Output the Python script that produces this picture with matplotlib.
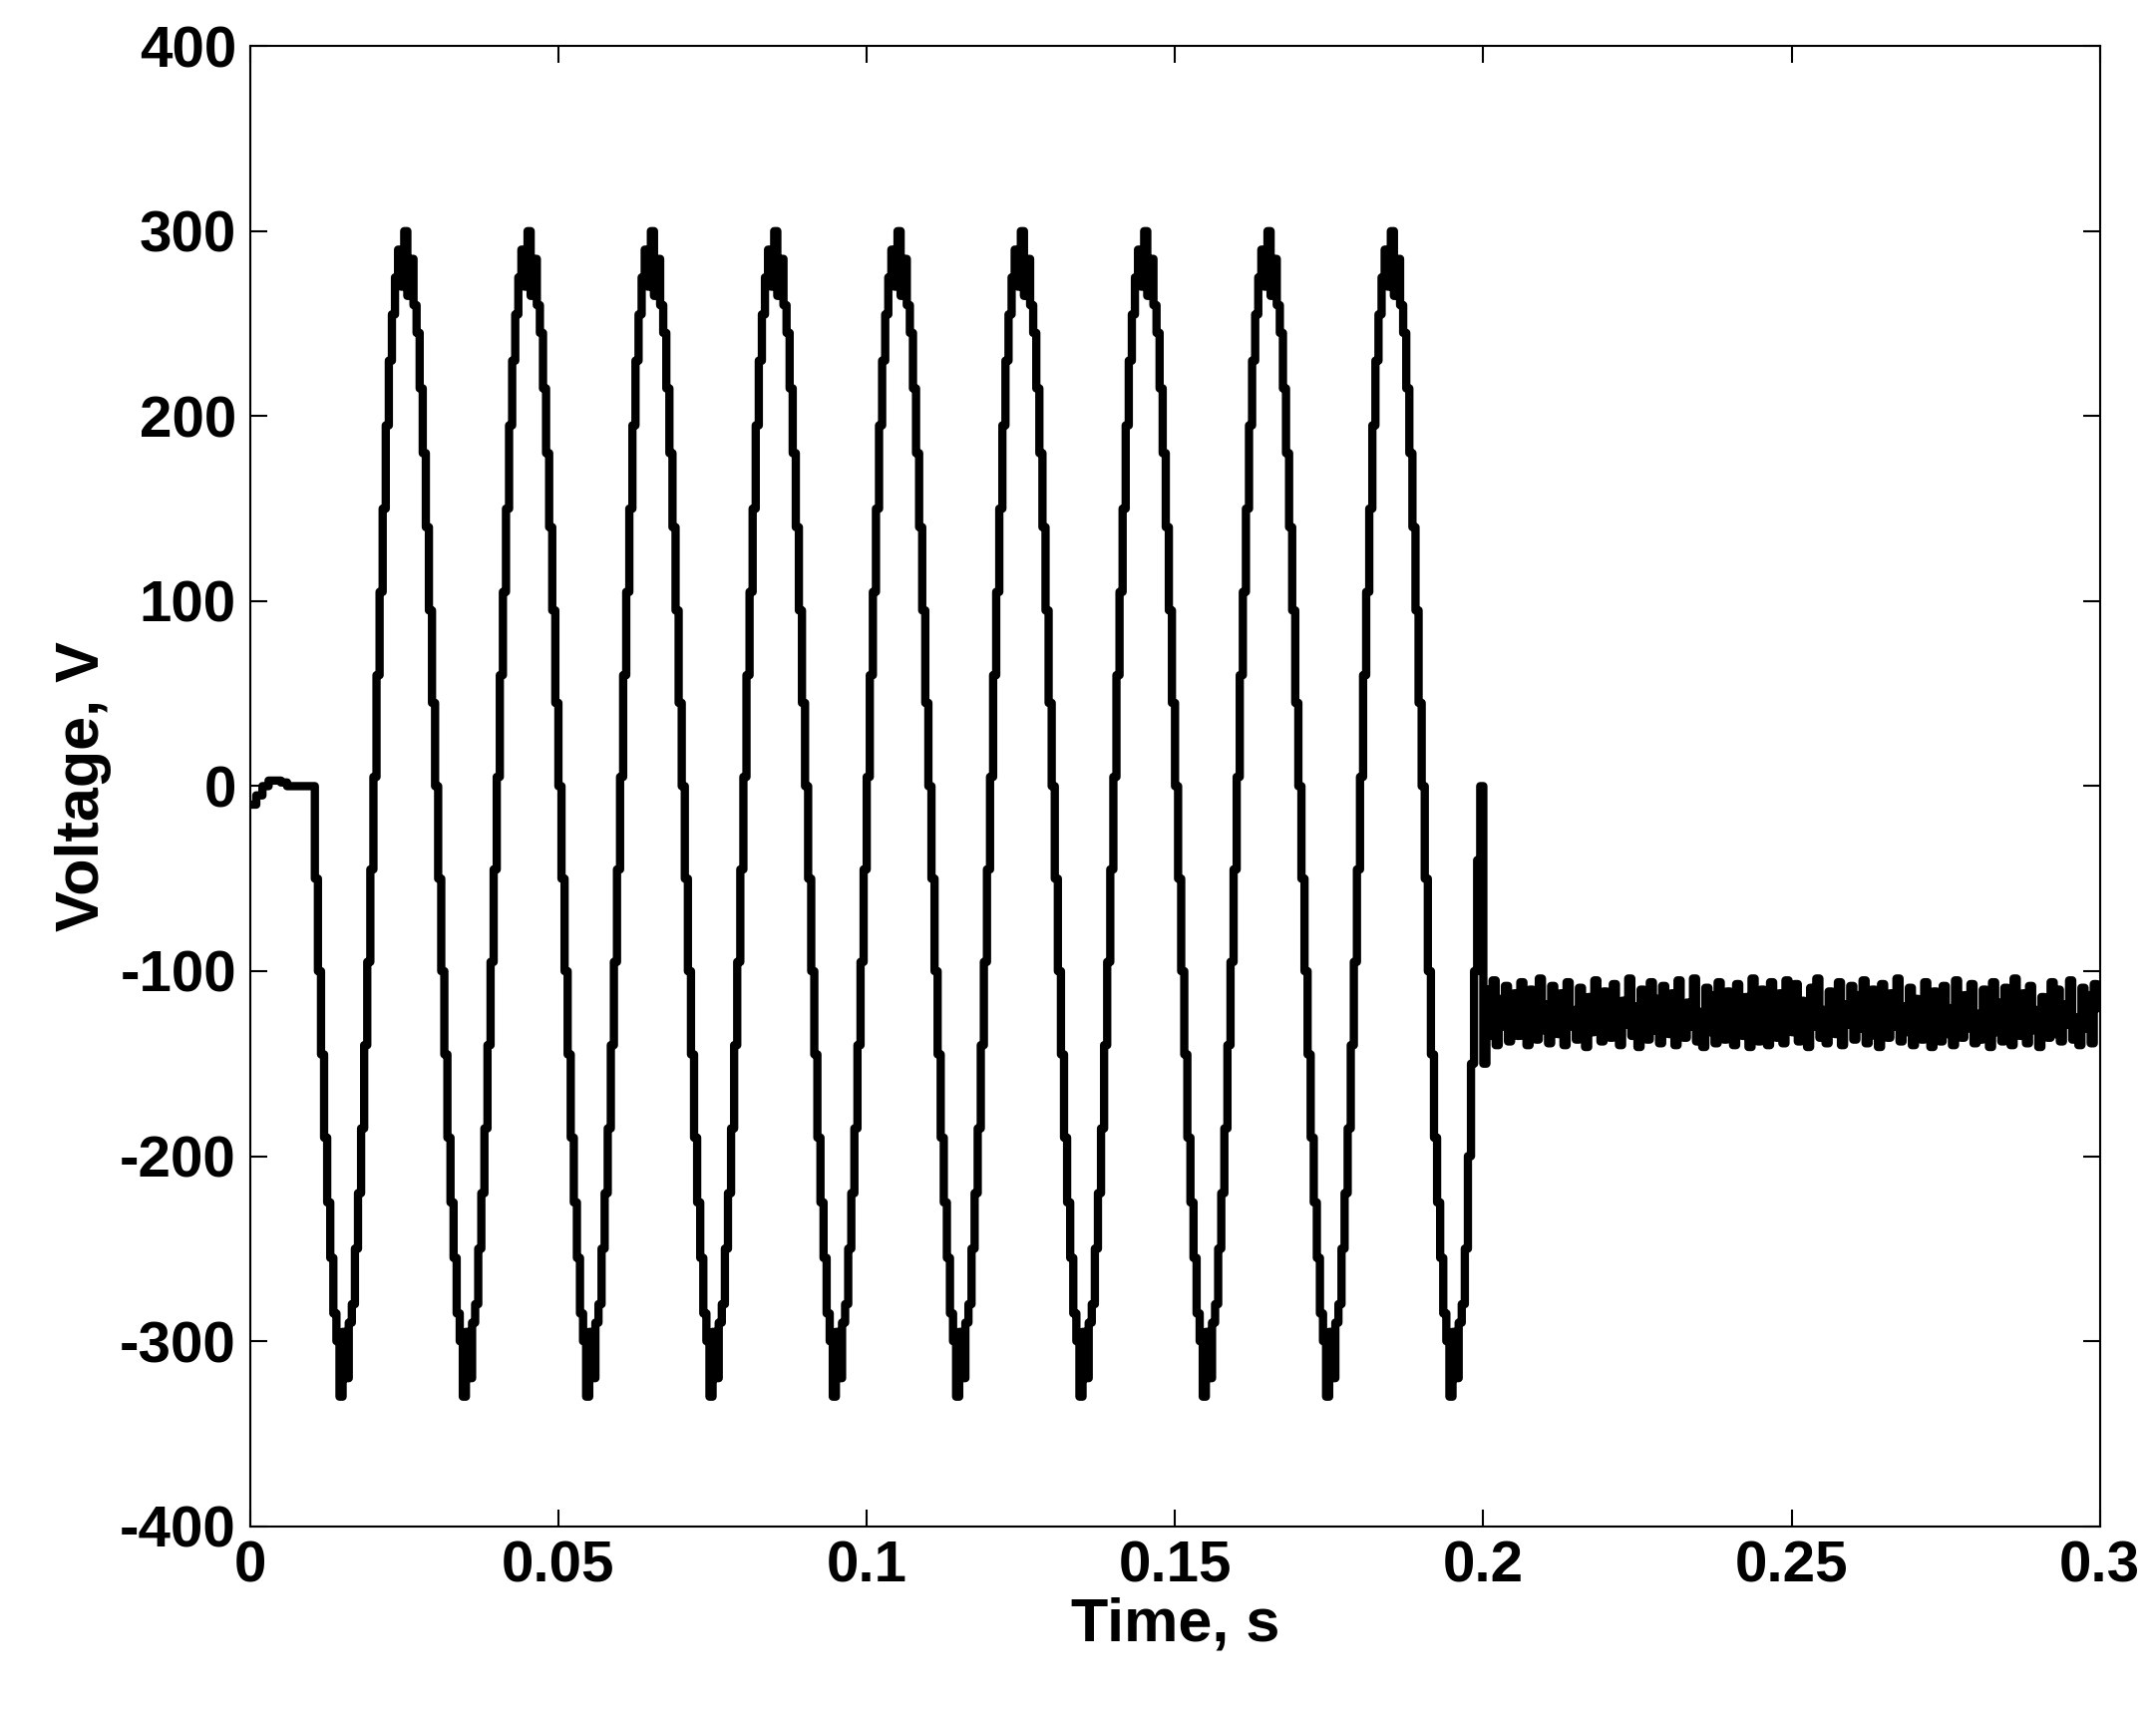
import matplotlib.pyplot as plt

# start-up segment, 1 ms steps
start_t0 = 0.0
start_dt = 0.001
start_v = [-10, -5, 0, 3, 3, 2, 0, 0, 0, 0]

# one period of the staircase waveform, 0.5 ms steps
cycle_dt = 0.0005
cycle_v = [0, -50, -100, -145, -190, -225, -255, -285, -300, -330,
           -295, -320, -290, -280, -250, -220, -185, -140, -95, -45,
           5, 60, 105, 150, 195, 230, 255, 275, 290, 270,
           300, 265, 285, 260, 245, 215, 180, 140, 95, 45]
n_cycles = 9
last_half = [0, -50, -100, -145, -190, -225, -255, -285, -300, -330,
             -295, -320, -290, -280, -250, -200, -150, -100, -40, 0]

# tail after 0.2 s, 0.5 ms steps
tail_dt = 0.0005
tail_v = [-150, -110, -135, -105, -140, -115, -130, -108, -138, -120,
          -112, -135, -106, -128, -140, -110, -125, -137, -104, -132,
          -118, -139, -108, -126, -134, -112, -140, -106, -130, -121,
          -137, -109, -128, -141, -114, -133, -105, -127, -138, -111,
          -124, -136, -107, -131, -140, -116, -129, -104, -135, -119,
          -141, -110, -126, -137, -106, -132, -115, -139, -108, -128,
          -134, -112, -140, -105, -127, -136, -117, -130, -104, -138,
          -122, -141, -109, -133, -113, -139, -106, -125, -137, -111,
          -131, -140, -107, -128, -135, -114, -141, -104, -126, -138,
          -110, -132, -140, -106, -129, -136, -112, -139, -105, -120,
          -133, -107, -138, -116, -127, -141, -109, -130, -104, -136,
          -121, -139, -111, -126, -134, -106, -140, -118, -129, -108,
          -137, -113, -131, -105, -139, -124, -110, -135, -141, -107,
          -128, -136, -112, -130, -104, -138, -119, -133, -109, -140,
          -115, -127, -137, -106, -132, -141, -111, -125, -138, -108,
          -134, -120, -140, -105, -129, -136, -113, -131, -107, -139,
          -123, -137, -110, -128, -141, -106, -133, -117, -138, -109,
          -130, -140, -104, -126, -135, -112, -139, -108, -132, -121,
          -141, -114, -127, -136, -106, -134, -110, -138, -118, -129,
          -105, -137, -125, -140, -109, -131, -113, -139, -107, -120]

t, v = [], []
for i, val in enumerate(start_v):
    t.append(start_t0 + i * start_dt); v.append(val)
t0 = 0.01
seq = cycle_v * n_cycles + last_half
for i, val in enumerate(seq):
    t.append(t0 + i * cycle_dt); v.append(val)
t1 = t0 + len(seq) * cycle_dt
for i, val in enumerate(tail_v):
    t.append(t1 + i * tail_dt); v.append(val)
t.append(0.3); v.append(tail_v[-1])

plt.rcParams['font.family'] = ['Liberation Sans', 'DejaVu Sans']
plt.rcParams['font.weight'] = 'bold'
plt.rcParams['axes.unicode_minus'] = False
fig = plt.figure(figsize=(21.62, 17.14), dpi=100)
ax = fig.add_axes([0.116, 0.107, 0.858, 0.866])
ax.plot(t, v, color='black', linewidth=6, drawstyle='steps-post')
ax.set_xlim(0, 0.3)
ax.set_ylim(-400, 400)
ax.set_xticks([0, 0.05, 0.1, 0.15, 0.2, 0.25, 0.3])
ax.set_xticklabels(['0', '0.05', '0.1', '0.15', '0.2', '0.25', '0.3'])
ax.set_yticks(range(-400, 401, 100))
ax.tick_params(direction='in', top=True, right=True, labelsize=42,
               length=12, width=1.5, pad=10)
for s in ax.spines.values():
    s.set_linewidth(1.5)
ax.set_xlabel('Time, s', fontsize=44, fontweight='bold', labelpad=2)
ax.set_ylabel('Voltage, V', fontsize=44, fontweight='bold', labelpad=6)
fig.savefig('out.png', dpi=100)
